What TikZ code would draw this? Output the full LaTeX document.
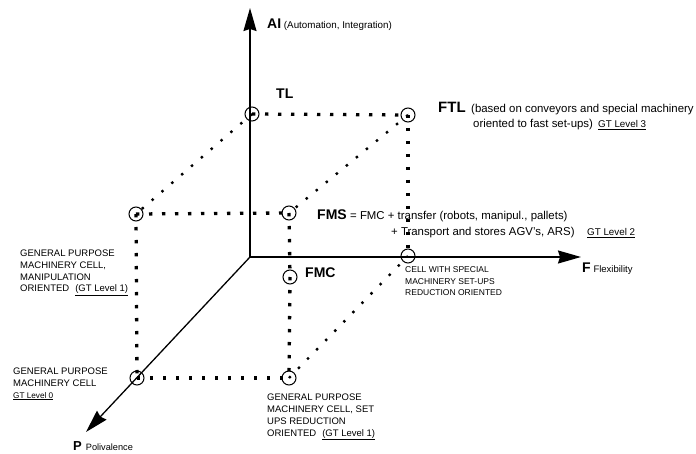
\documentclass[tikz,border=0pt]{standalone}
\usepackage{fontspec}
\setmainfont{Liberation Sans}
\usetikzlibrary{arrows.meta}

\newcommand{\fs}[1]{\fontsize{#1}{11.7}\selectfont}

\begin{document}
\begin{tikzpicture}[x=1pt,y=-1pt,
  axis/.style={line width=1.3pt,-{Stealth[length=23pt,width=13pt,inset=2pt]}},
  cell/.style={circle,draw,line width=1pt,minimum size=14pt,inner sep=0pt},
  grid/.style={line width=3.3pt,dash pattern=on 3.3pt off 9.7pt},
  slant/.style={line width=2.4pt,dash pattern=on 2.4pt off 10.6pt},
  lbl/.style={anchor=base west,inner sep=0pt,align=left},
  head/.style={lbl,font=\bfseries\fs{14}},
  desc/.style={lbl,font=\fs{11.4}}]

\useasboundingbox (0,0) rectangle (696,454);

% axes
\coordinate (O) at (250,257);
\coordinate (Atip) at (250,8);
\coordinate (Ftip) at (581,257);
\coordinate (Ptip) at (86,432);
\draw[axis] (O) -- (Atip);
\draw[axis] (O) -- (Ftip);
\draw[axis] (O) -- (Ptip);

% cells of the cube
\node[cell] (TL)  at (252,114) {};
\node[cell] (FTL) at (408,115) {};
\node[cell] (GPM) at (136,214) {};
\node[cell] (FMS) at (289,213) {};
\node[cell] (FMC) at (290,277) {};
\node[cell] (CSM) at (408,256) {};
\node[cell] (GP0) at (137,378) {};
\node[cell] (GPS) at (289,378) {};

% dotted edges
\draw[grid] (TL.center) -- (FTL.center);
\draw[grid] (FTL.center) -- (CSM.center);
\draw[grid] (GPM.center) -- (FMS.center);
\draw[grid] (GPM.center) -- (GP0.center);
\draw[grid] (FMS.center) -- (FMC.center);
\draw[grid] (FMC.center) -- (GPS.center);
\draw[grid] (GP0.center) -- (GPS.center);
\draw[slant] (TL.center) -- (GPM.center);
\draw[slant] (FTL.center) -- (FMS.center);
\draw[slant] (GPS.center) -- (CSM.center);

% axis labels
\node[lbl] (ai) at (267,29) {{\bfseries\fs{14}AI} {\fs{9.8}(Automation, Integration)}};
\node[lbl] (fl) at (582,273) {{\bfseries\fs{14}F} {\fs{9.5}Flexibility}};
\node[lbl] (pl) at (73,450) {{\bfseries\fs{13}P}\hspace{4pt}{\fs{9.2}Polivalence}};

% cell labels (multi-line labels are placed by the baseline of their last line)
\node[head] (tll) at (276,99) {TL};
\node[lbl,font=\bfseries\fs{15}] (ftll) at (438,113) {FTL};
\node[desc] (ftld1) at (471,113) {(based on conveyors and special machinery};
\node[desc] (ftld2) at (473,128) {oriented to fast set-ups)};
\node[lbl,font=\fs{9.8}] (gt3) at (598,128) {\underline{GT Level 3}};

\node[head] (fmsl) at (317,220) {FMS};
\node[desc] (fmsd1) at (350,220) {= FMC + transfer (robots, manipul., pallets)};
\node[desc] (fmsd2) at (391,236) {+ Transport and stores AGV's, ARS)};
\node[lbl,font=\fs{9.8}] (gt2) at (587,236) {\underline{GT Level 2}};

\node[head] (fmcl) at (305,278) {FMC};

\node[lbl,font=\fs{8.5}] (csml) at (405,296) {CELL WITH SPECIAL\\MACHINERY SET-UPS\\REDUCTION ORIENTED};

\node[lbl,font=\fs{9.5}] (gpml) at (20,292) {GENERAL PURPOSE\\MACHINERY CELL,\\MANIPULATION\\ORIENTED\hspace{6pt}\underline{(GT Level 1)}};

\node[lbl,font=\fs{9.5}] (gp0l) at (13,398) {GENERAL PURPOSE\\MACHINERY CELL\\{\fs{8.2}\underline{GT Level 0}}};

\node[lbl,font=\fs{9.5}] (gpsl) at (267,436) {GENERAL PURPOSE\\MACHINERY CELL, SET\\UPS REDUCTION\\ORIENTED\hspace{6pt}\underline{(GT Level 1)}};
\end{tikzpicture}
\end{document}
